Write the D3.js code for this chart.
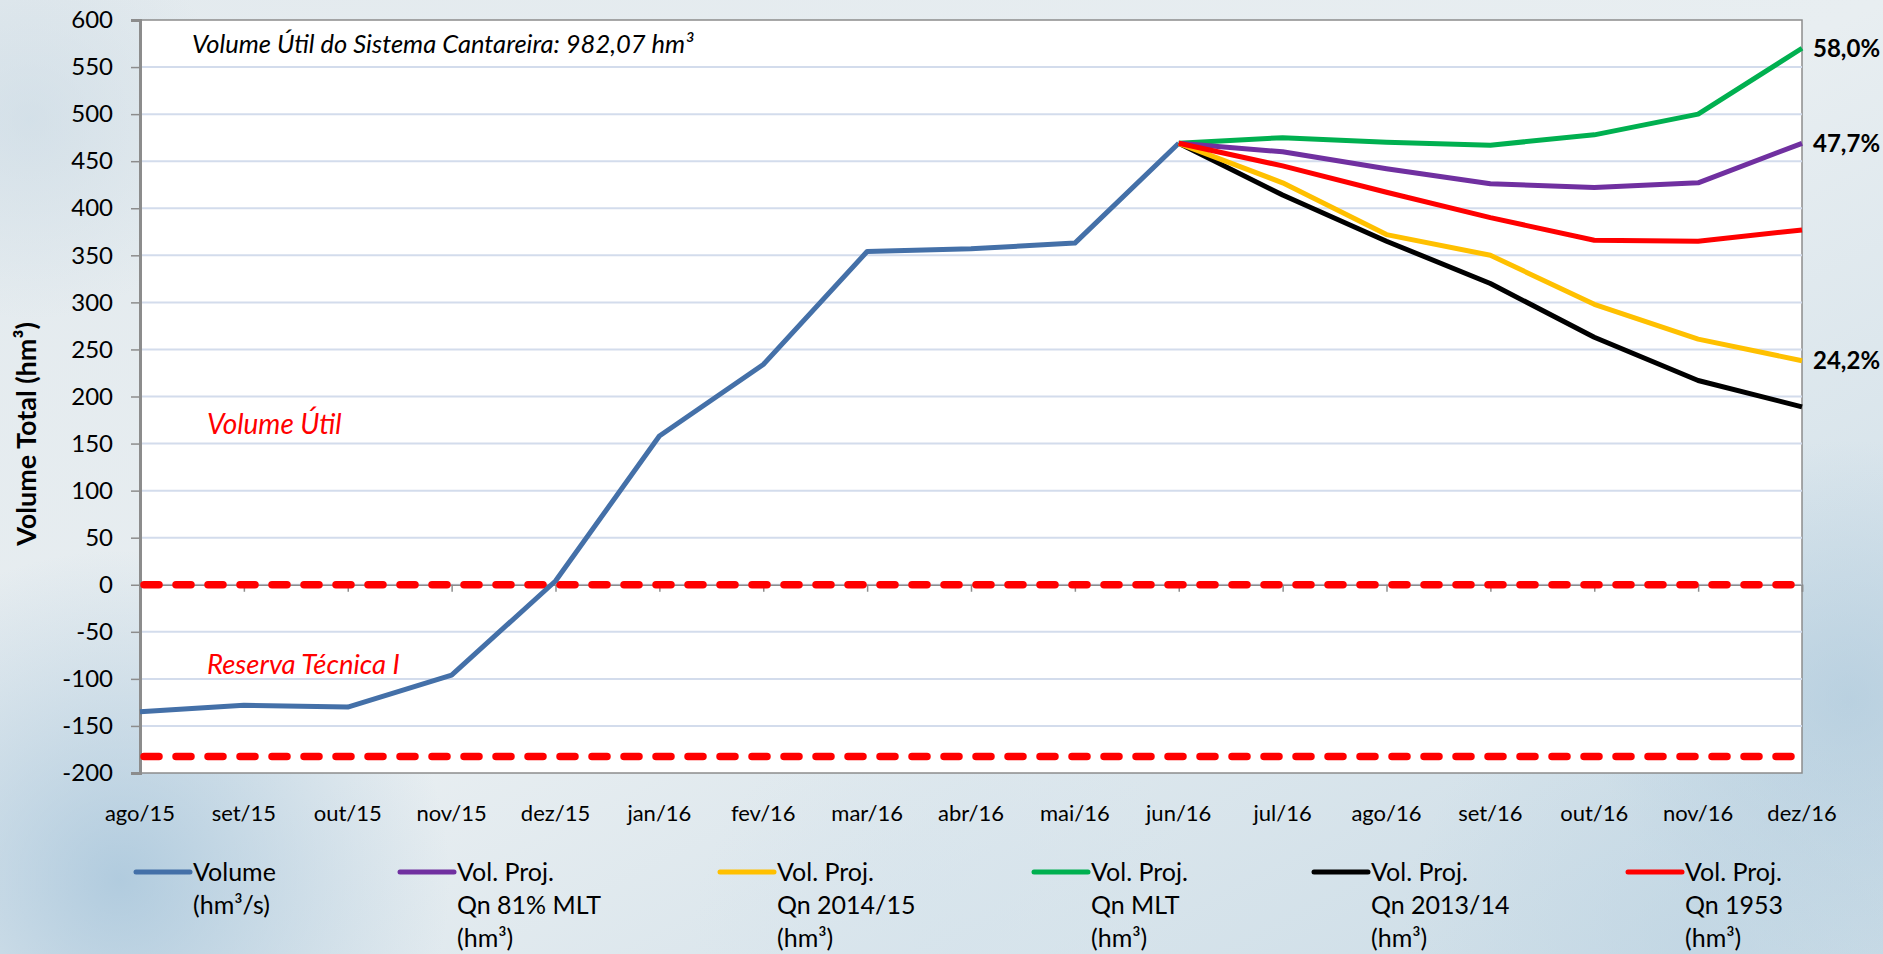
<!DOCTYPE html>
<html>
<head>
<meta charset="utf-8">
<script src="https://cdn.jsdelivr.net/npm/d3@7"></script>
<style>
  html, body { margin: 0; padding: 0; overflow: hidden; }
  svg { display: block; font-family: Lato, "Open Sans", sans-serif; }
</style>
</head>
<body>
<div id="chart"></div>
<script>
// categories
const months = ["ago/15", "set/15", "out/15", "nov/15", "dez/15", "jan/16", "fev/16", "mar/16",
  "abr/16", "mai/16", "jun/16", "jul/16", "ago/16", "set/16", "out/16", "nov/16", "dez/16"];

// observed volume ago/15 .. jun/16
const volume = [-135, -128, -130, -96, 4, 158, 234, 354, 357, 363, 469];

// projections jun/16 .. dez/16
const projMonths = months.slice(10);
const proj81 = [469, 460, 442, 426, 422, 427, 469];
const proj2014 = [469, 427, 372, 350, 298, 261, 238];
const projMLT = [469, 475, 470, 467, 478, 500, 570];
const proj2013 = [469, 414, 365, 320, 263, 217, 189];
const proj1953 = [469, 445, 417, 390, 366, 365, 377];

const yTicks = d3.range(-200, 601, 50);
const limits = [0, -182.5];
const endLabels = [
  { text: "58,0%", value: 570 },
  { text: "47,7%", value: 469 },
  { text: "24,2%", value: 238 }
];

const series = [
  { name: ["Volume", "(hm³/s)"], color: "#4470a8", cats: months.slice(0, 11), vals: volume },
  { name: ["Vol. Proj.", "Qn 81% MLT", "(hm³)"], color: "#7030a0", cats: projMonths, vals: proj81 },
  { name: ["Vol. Proj.", "Qn 2014/15", "(hm³)"], color: "#ffc000", cats: projMonths, vals: proj2014 },
  { name: ["Vol. Proj.", "Qn MLT", "(hm³)"], color: "#00b050", cats: projMonths, vals: projMLT },
  { name: ["Vol. Proj.", "Qn 2013/14", "(hm³)"], color: "#000000", cats: projMonths, vals: proj2013 },
  { name: ["Vol. Proj.", "Qn 1953", "(hm³)"], color: "#ff0000", cats: projMonths, vals: proj1953 }
];
// drawing order (red on top of the fan)
const drawOrder = [0, 3, 1, 4, 2, 5];

const w = 1883;
const h = 954;
const margin = { top: 20, right: 81, bottom: 181, left: 140 };

const svg = d3.select("#chart")
  .append("svg")
  .attr("width", w)
  .attr("height", h);

// background, a pale icy blue texture
const defs = svg.append("defs");
const bg = defs.append("linearGradient").attr("id", "bg")
  .attr("x1", 0).attr("y1", 0).attr("x2", 1).attr("y2", 1);
bg.append("stop").attr("offset", "0%").attr("stop-color", "#e3eaee");
bg.append("stop").attr("offset", "50%").attr("stop-color", "#e8eef1");
bg.append("stop").attr("offset", "100%").attr("stop-color", "#c9dbe6");
svg.append("rect").attr("width", w).attr("height", h).attr("fill", "url(#bg)");

const blobs = [
  { cx: 120, cy: 880, r: 330, c: "#9fc0d8", o: 0.75 },
  { cx: 1850, cy: 700, r: 260, c: "#a9c6da", o: 0.6 },
  { cx: 1700, cy: 950, r: 300, c: "#bcd3e2", o: 0.6 },
  { cx: 30, cy: 120, r: 200, c: "#c9d9e4", o: 0.6 },
  { cx: 950, cy: 950, r: 260, c: "#d5e3ec", o: 0.6 }
];
blobs.forEach((b, i) => {
  const g = defs.append("radialGradient").attr("id", "blob" + i);
  g.append("stop").attr("offset", "0%").attr("stop-color", b.c).attr("stop-opacity", b.o);
  g.append("stop").attr("offset", "100%").attr("stop-color", b.c).attr("stop-opacity", 0);
  svg.append("circle").attr("cx", b.cx).attr("cy", b.cy).attr("r", b.r)
    .attr("fill", `url(#blob${i})`);
});

const x = d3.scalePoint()
  .domain(months)
  .range([margin.left, w - margin.right])
  .padding(0);

const y = d3.scaleLinear()
  .domain([-200, 600])
  .range([h - margin.bottom, margin.top]);

// plot area
svg.append("rect")
  .attr("x", margin.left).attr("y", margin.top)
  .attr("width", w - margin.right - margin.left)
  .attr("height", h - margin.bottom - margin.top)
  .attr("fill", "#fff")
  .attr("stroke", "#8c8c8c")
  .attr("stroke-width", 1.5);

// gridlines
svg.append("g")
  .selectAll("line")
  .data(yTicks.filter(d => d > -200 && d < 600))
  .join("line")
  .attr("x1", margin.left).attr("x2", w - margin.right)
  .attr("y1", d => y(d)).attr("y2", d => y(d))
  .attr("stroke", "#d3dcec")
  .attr("stroke-width", 2);

// category axis crosses at zero
const xAxis = svg.append("g")
  .attr("transform", `translate(0,${y(0)})`)
  .call(d3.axisBottom(x).tickSize(7).tickFormat(""));
xAxis.select(".domain").attr("stroke", "#8c8c8c").attr("stroke-width", 1.5);
xAxis.selectAll(".tick line").attr("stroke", "#8c8c8c").attr("stroke-width", 1.5);

// category labels at the bottom
svg.append("g")
  .selectAll("text")
  .data(months)
  .join("text")
  .attr("x", d => x(d))
  .attr("y", 821)
  .attr("text-anchor", "middle")
  .attr("font-size", 22)
  .attr("fill", "#000")
  .text(d => d);

// value axis
const yAxis = svg.append("g")
  .attr("transform", `translate(${margin.left},0)`)
  .call(d3.axisLeft(y).tickValues(yTicks).tickSize(9).tickPadding(18).tickFormat(d => String(d)));
yAxis.select(".domain").attr("stroke", "#8c8c8c").attr("stroke-width", 3);
yAxis.selectAll(".tick line").attr("stroke", "#8c8c8c").attr("stroke-width", 1.5);
yAxis.selectAll(".tick text")
  .attr("font-size", 24)
  .attr("font-family", "Lato, 'Open Sans', sans-serif")
  .attr("fill", "#000");

svg.append("text")
  .attr("transform", `translate(36,434) rotate(-90)`)
  .attr("text-anchor", "middle")
  .attr("font-size", 27)
  .attr("font-weight", "bold")
  .attr("fill", "#000")
  .text("Volume Total (hm³)");

// limit lines
svg.append("g")
  .selectAll("line")
  .data(limits)
  .join("line")
  .attr("x1", margin.left + 4).attr("x2", w - margin.right - 4)
  .attr("y1", d => y(d)).attr("y2", d => y(d))
  .attr("stroke", "#ff0000")
  .attr("stroke-width", 7.5)
  .attr("stroke-linecap", "round")
  .attr("stroke-dasharray", "15 17");

// series lines
const line = d3.line()
  .x(d => x(d.cat))
  .y(d => y(d.val));

svg.append("g")
  .selectAll("path")
  .data(drawOrder.map(i => series[i]))
  .join("path")
  .attr("fill", "none")
  .attr("stroke", d => d.color)
  .attr("stroke-width", 5)
  .attr("stroke-linejoin", "round")
  .attr("d", d => line(d.cats.map((c, i) => ({ cat: c, val: d.vals[i] }))));

// annotations
svg.append("text")
  .attr("x", 192).attr("y", 53)
  .attr("font-size", 25.5)
  .attr("font-style", "italic")
  .attr("fill", "#000")
  .text("Volume Útil do Sistema Cantareira: 982,07 hm³");

svg.append("text")
  .attr("x", 207).attr("y", 434)
  .attr("font-size", 28)
  .attr("font-style", "italic")
  .attr("fill", "#ff0000")
  .text("Volume Útil");

svg.append("text")
  .attr("x", 207).attr("y", 674)
  .attr("font-size", 27.5)
  .attr("font-style", "italic")
  .attr("fill", "#ff0000")
  .text("Reserva Técnica I");

svg.append("g")
  .selectAll("text")
  .data(endLabels)
  .join("text")
  .attr("x", w - margin.right + 11)
  .attr("y", d => y(d.value))
  .attr("dy", "0.35em")
  .attr("font-size", 24)
  .attr("font-weight", "bold")
  .attr("fill", "#000")
  .text(d => d.text);

// legend
const legendX = [136, 400, 720, 1034, 1314, 1628];
const legend = svg.append("g")
  .selectAll("g")
  .data(series)
  .join("g")
  .attr("transform", (d, i) => `translate(${legendX[i]},872)`);

legend.append("line")
  .attr("x1", 0).attr("x2", 54)
  .attr("stroke", d => d.color)
  .attr("stroke-width", 5)
  .attr("stroke-linecap", "round");

legend.each(function(d) {
  const t = d3.select(this).append("text")
    .attr("x", 57)
    .attr("font-size", 25)
    .attr("fill", "#000");
  d.name.forEach((s, k) => {
    t.append("tspan").attr("x", 57).attr("y", k * 33 + 9).text(s);
  });
});
</script>
</body>
</html>
